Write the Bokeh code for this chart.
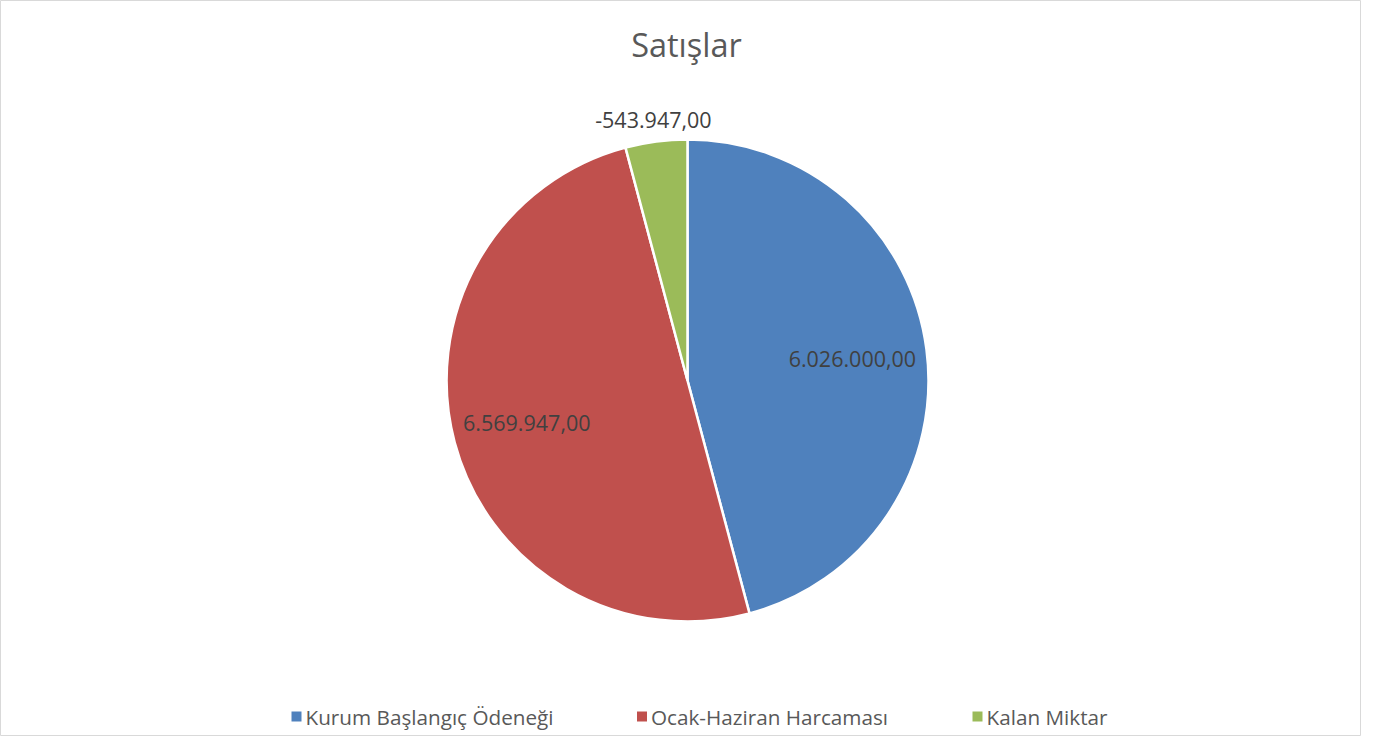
import math
from bokeh.plotting import figure
from bokeh.models import Range1d, ColumnDataSource
from bokeh.core.properties import value
from bokeh.embed import file_html
from bokeh.resources import INLINE

# ---- data ----
categories = ["Kurum Başlangıç Ödeneği", "Ocak-Haziran Harcaması", "Kalan Miktar"]
values = [6026000.00, 6569947.00, -543947.00]
colors = ["#4f81bd", "#c0504d", "#9bbb59"]
title_text = "Satışlar"

# ---- layout (image pixel coordinates) ----
W, H = 1361, 736
CX, CY, R = 687, 380, 241
FONT = "Open Sans"


def tr_fmt(v):
    s = f"{v:,.2f}"
    return s.replace(",", "#").replace(".", ",").replace("#", ".")


p = figure(width=W, height=H, output_backend="svg", toolbar_location=None,
           x_range=Range1d(0, W), y_range=Range1d(-H, 0),
           x_axis_type=None, y_axis_type=None, min_border=0)
p.grid.visible = False
p.background_fill_color = "white"
p.border_fill_color = "white"
p.outline_line_color = "#d9d9d9"
p.outline_line_width = 1

absv = [abs(v) for v in values]
total = sum(absv)
starts, ends, mids = [], [], []
a = math.pi / 2
for v in absv:
    sweep = 2 * math.pi * v / total
    starts.append(a)
    ends.append(a - sweep)
    mids.append(a - sweep / 2)
    a -= sweep

src = ColumnDataSource(dict(cat=categories, start=starts, end=ends, color=colors,
                            x=[CX] * 3, y=[-CY] * 3))
p.wedge(x="x", y="y", radius=R, start_angle="start", end_angle="end",
        direction="clock", fill_color="color", line_color="white", line_width=2.5,
        source=src)

# data labels
lx, ly, lt = [], [], []
for v, m in zip(absv, mids):
    frac = v / total
    rr = R * 0.69 if frac > 0.1 else R + 22
    lx.append(CX + rr * math.cos(m))
    ly.append(-CY + rr * math.sin(m))
for v in values:
    lt.append(tr_fmt(v))
p.text(x=lx, y=ly, text=lt, text_align="center", text_baseline="middle",
       text_font=value(FONT), text_font_size="21.5px", text_color="#404040")

# title
p.text(x=[686], y=[-44], text=[title_text], text_align="center", text_baseline="middle",
       text_font=value(FONT), text_font_size="32.5px", text_color="#595959")

# legend (manual)
leg_x = [296, 641.5, 977]
leg_y = [-716] * 3
p.rect(x=leg_x, y=leg_y, width=10, height=10, fill_color=colors, line_color=None)
p.text(x=[x + 9 for x in leg_x], y=leg_y, text=categories, text_align="left",
       text_baseline="middle", text_font=value(FONT), text_font_size="20.7px",
       text_color="#595959")

open("out.html", "w").write(file_html(p, INLINE))
